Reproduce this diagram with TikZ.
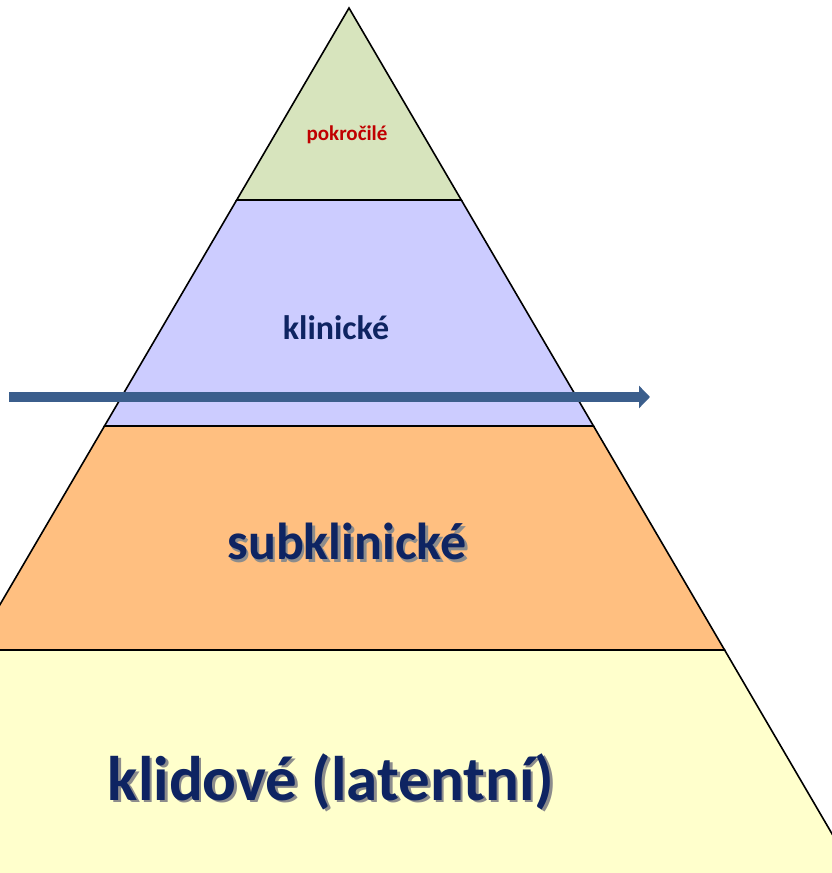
\documentclass[tikz,border=0pt]{standalone}
\usepackage{fontspec}
\setmainfont{Carlito}
\usepackage{tkz-euclide}
\usetikzlibrary{arrows.meta}

\definecolor{vrstvaA}{HTML}{D7E4BD}
\definecolor{vrstvaB}{HTML}{CCCCFF}
\definecolor{vrstvaC}{HTML}{FFBF80}
\definecolor{vrstvaD}{HTML}{FFFFCC}
\definecolor{popis}{HTML}{0E2462}
\definecolor{cervena}{HTML}{C00000}
\definecolor{sipka}{HTML}{3B5E8C}

% text se stinem vpravo dole
\newcommand\stintext[1]{\makebox[0pt][l]{\hspace{2.5pt}\raisebox{-2.5pt}{\textcolor{black!45}{#1}}}#1}

\tikzset{
  vrstva/.style={draw=black,line width=1.6pt,line join=miter},
  sipkastyl/.style={sipka,line width=10.5pt,-{Triangle[length=11pt,width=22pt]}}
}

\begin{document}
\begin{tikzpicture}[x=1pt,y=1pt]
\useasboundingbox (0,0) rectangle (832,873);
\clip (0,0) rectangle (832,873);

\tkzDefPoints{349/865/V,236.7/673/A1,461.3/673/B1,104.5/447/A2,593.5/447/B2}
\tkzDefPoints{-26.6/223/A3,724.6/223/B3,-161/-7/A4,859/-7/B4}

% vrstvy pyramidy
\tkzDrawPolygon[vrstva,fill=vrstvaD](A3,B3,B4,A4)
\tkzDrawPolygon[vrstva,fill=vrstvaC](A2,B2,B3,A3)
\tkzDrawPolygon[vrstva,fill=vrstvaB](A1,B1,B2,A2)
\tkzDrawPolygon[vrstva,fill=vrstvaA](V,A1,B1)

% popisky
\node[text=cervena,font=\fontsize{21}{25}\selectfont\bfseries] (pokrocile) at (347,738) {pokročilé};
\node[text=popis,font=\fontsize{34}{40}\selectfont\bfseries] (klinicke) at (336,545) {klinické};
\node[text=popis,font=\fontsize{52}{60}\selectfont\bfseries] (subklinicke) at (347,330) {\stintext{subklinické}};
\node[text=popis,font=\fontsize{63}{72}\selectfont\bfseries] (klidove) at (331,90) {\stintext{klidové (latentní)}};

% sipka pres pyramidu
\tkzDefPoints{9/476/S,650/476/E}
\draw[sipkastyl] (S) -- (E);

\end{tikzpicture}
\end{document}
